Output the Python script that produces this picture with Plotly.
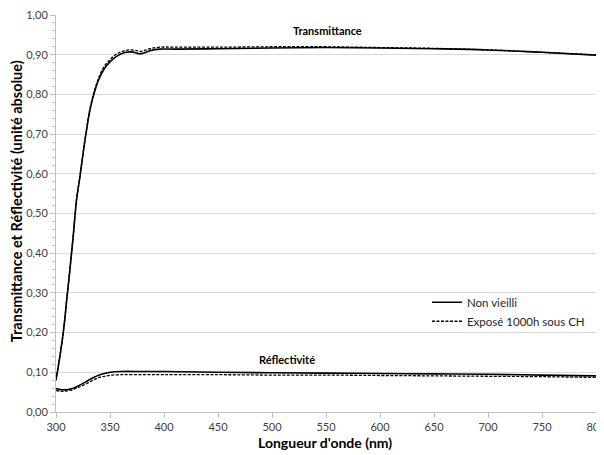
import plotly.graph_objects as go

# Transmittance data
wl_T = [300, 303, 306, 308, 310, 312, 314, 316, 319, 322, 324, 326, 328, 331, 334, 337, 340,
        345, 350, 355, 360, 365, 370, 375, 378, 382, 387, 396, 410, 450,
        500, 550, 600, 650, 700, 750, 800]
T_non = [0.08, 0.13, 0.185, 0.23, 0.285, 0.335, 0.39, 0.445, 0.534, 0.59, 0.63, 0.67, 0.705, 0.755, 0.79, 0.818, 0.840,
         0.866, 0.882, 0.894, 0.902, 0.906, 0.907, 0.904, 0.902, 0.905, 0.910, 0.914, 0.914, 0.915,
         0.917, 0.918, 0.917, 0.915, 0.912, 0.906, 0.899]
T_exp = [0.08, 0.13, 0.185, 0.23, 0.285, 0.335, 0.39, 0.445, 0.534, 0.59, 0.63, 0.67, 0.707, 0.758, 0.794, 0.822, 0.845,
         0.872, 0.888, 0.900, 0.907, 0.911, 0.912, 0.910, 0.908, 0.911, 0.915, 0.919, 0.919, 0.919,
         0.920, 0.920, 0.918, 0.916, 0.912, 0.906, 0.899]

# Reflectivity data
wl_R = [300, 305, 310, 315, 320, 325, 330, 335, 340, 345, 350, 360, 380, 400, 450,
        500, 550, 600, 650, 700, 750, 800]
R_non = [0.059, 0.056, 0.056, 0.059, 0.065, 0.072, 0.080, 0.087, 0.093, 0.097, 0.100, 0.102, 0.102, 0.102, 0.100,
         0.099, 0.098, 0.097, 0.096, 0.095, 0.093, 0.091]
R_exp = [0.054, 0.052, 0.053, 0.056, 0.061, 0.067, 0.074, 0.081, 0.087, 0.090, 0.0925, 0.094, 0.094, 0.094, 0.094,
         0.093, 0.093, 0.092, 0.091, 0.090, 0.089, 0.087]

x_ticks = [300, 350, 400, 450, 500, 550, 600, 650, 700, 750, 800]
y_ticks = [0.0, 0.1, 0.2, 0.3, 0.4, 0.5, 0.6, 0.7, 0.8, 0.9, 1.0]

FONT = "Lato"
SOLID = dict(color="black", width=1.6)
DASH = dict(color="black", width=1.3, dash="3px,1.5px")

fig = go.Figure()
fig.add_trace(go.Scatter(x=wl_T, y=T_non, mode="lines", name="Non vieilli",
                         legendgroup="a", line=SOLID, line_shape="spline"))
fig.add_trace(go.Scatter(x=wl_T, y=T_exp, mode="lines", name="Exposé 1000h sous CH",
                         legendgroup="b", line=DASH, line_shape="spline"))
fig.add_trace(go.Scatter(x=wl_R, y=R_non, mode="lines", name="Non vieilli",
                         legendgroup="a", showlegend=False, line=SOLID, line_shape="spline"))
fig.add_trace(go.Scatter(x=wl_R, y=R_exp, mode="lines", name="Exposé 1000h sous CH",
                         legendgroup="b", showlegend=False, line=DASH, line_shape="spline"))

fig.add_annotation(x=551, y=0.961, text="<b>Transmittance</b>", showarrow=False,
                   font=dict(family=FONT, size=11, color="black"))
fig.add_annotation(x=514, y=0.131, text="<b>Réflectivité</b>", showarrow=False,
                   font=dict(family=FONT, size=11, color="black"))

# axis titles
fig.add_annotation(xref="paper", yref="paper", x=0.498, y=0, yshift=-30, xanchor="center", yanchor="middle",
                   text="<b>Longueur d'onde (nm)</b>", showarrow=False,
                   font=dict(family=FONT, size=14, color="black"))
fig.add_annotation(xref="paper", yref="paper", x=0, xshift=-40, y=0.531, xanchor="center", yanchor="middle",
                   text="<b>Transmittance et Réflectivité (unité absolue)</b>", textangle=-90, showarrow=False,
                   font=dict(family=FONT, size=14.5, color="black"))

fig.update_layout(
    width=604, height=455,
    margin=dict(l=48, r=16, t=7, b=51, autoexpand=False),
    paper_bgcolor="white", plot_bgcolor="white",
    separators=", ",
    font=dict(family=FONT, color="#404040"),
    legend=dict(x=0.687, y=0.313, xanchor="left", yanchor="top",
                bgcolor="rgba(0,0,0,0)", font=dict(family=FONT, size=11.5, color="#262626"),
                itemwidth=30, tracegroupgap=0),
    showlegend=True,
)
fig.update_xaxes(
    range=[300, 800], tickvals=x_ticks, ticktext=[str(v) for v in x_ticks],
    showgrid=False, showline=True, linecolor="#bfbfbf", linewidth=1,
    ticks="outside", ticklen=5, tickcolor="#bfbfbf",
    tickfont=dict(family=FONT, size=11, color="#404040"),
    ticklabeloverflow="allow", automargin=False,
    zeroline=False,
)
fig.update_yaxes(
    range=[0, 1.0], tickvals=y_ticks, tickformat=".2f",
    showgrid=True, gridcolor="#d9d9d9", gridwidth=1,
    showline=True, linecolor="#bfbfbf", linewidth=1,
    ticks="outside", ticklen=5, tickcolor="#bfbfbf",
    minor=dict(dtick=0.02, ticks="outside", ticklen=3, tickcolor="#bfbfbf", showgrid=False),
    tickfont=dict(family=FONT, size=11, color="#404040"),
    ticklabeloverflow="allow", automargin=False,
    zeroline=False,
)

fig.write_html("out.html")
